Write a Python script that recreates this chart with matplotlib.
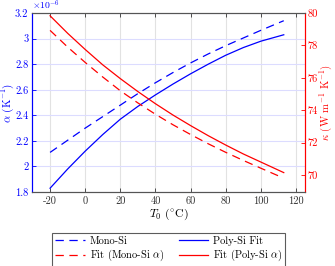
import matplotlib
matplotlib.use("Agg")
from matplotlib import pyplot as plt
from matplotlib.ticker import FuncFormatter

# temperature points (deg C) and read-off values
t_blue = [-20, -10, 0, 10, 20, 30, 40, 50, 60, 70, 80, 90, 100, 113]
alpha_mono = [2.11, 2.205, 2.30, 2.39, 2.48, 2.57, 2.655, 2.735, 2.81, 2.88,
              2.945, 3.005, 3.065, 3.14]  # x1e-6 1/K
alpha_poly = [1.83, 1.98, 2.12, 2.25, 2.37, 2.47, 2.56, 2.645, 2.725, 2.80,
              2.87, 2.93, 2.98, 3.03]

t_red_poly = [-20, -10, 0, 10, 20, 30, 40, 50, 60, 70, 80, 90, 100, 113]
kappa_poly = [79.83, 78.75, 77.75, 76.8, 75.95, 75.15, 74.4, 73.7, 73.05,
              72.43, 71.85, 71.3, 70.8, 70.15]
t_red_mono = [-20, -10, 0, 10, 20, 30, 40, 50, 60, 70, 80, 90, 100, 111]
kappa_mono = [78.93, 77.9, 76.95, 76.05, 75.2, 74.45, 73.75, 73.1, 72.5,
              71.93, 71.4, 70.9, 70.42, 69.9]

x_ticks = [-20, 0, 20, 40, 60, 80, 100, 120]
alpha_ticks = [1.8, 2.0, 2.2, 2.4, 2.6, 2.8, 3.0, 3.2]
kappa_ticks = [70, 72, 74, 76, 78, 80]

plt.rcParams["font.family"] = "serif"
plt.rcParams["font.serif"] = ["cmr10", "DejaVu Serif"]
plt.rcParams["mathtext.fontset"] = "cm"
plt.rcParams["axes.formatter.use_mathtext"] = True
plt.rcParams["lines.scale_dashes"] = False
plt.rcParams["font.size"] = 7.5

blue = (0.0, 0.0, 1.0)
red = (1.0, 0.0, 0.0)
dash = (6, 4)

fig = plt.figure(figsize=(3.35, 2.66), dpi=100)
ax = fig.add_axes([0.097, 0.278, 0.813, 0.673])
ax2 = ax.twinx()

l1, = ax.plot(t_blue, alpha_mono, color=blue, lw=0.9, dashes=dash, label="Mono-Si")
l2, = ax.plot(t_blue, alpha_poly, color=blue, lw=0.9, label="Poly-Si Fit")
l3, = ax2.plot(t_red_mono, kappa_mono, color=red, lw=0.9, dashes=dash, label=r"Fit (Mono-Si $\alpha$)")
l4, = ax2.plot(t_red_poly, kappa_poly, color=red, lw=0.9, label=r"Fit (Poly-Si $\alpha$)")

ax.set_xlim(-30, 125)
ax.set_ylim(1.8, 3.2)
ax2.set_ylim(68.95, 80)
ax.set_xticks(x_ticks)
ax.set_yticks(alpha_ticks)
ax2.set_yticks(kappa_ticks)
fmt = FuncFormatter(lambda v, p: f"{v:g}")
ax.yaxis.set_major_formatter(fmt)
ax.xaxis.set_major_formatter(fmt)
ax2.yaxis.set_major_formatter(fmt)

ax.grid(axis="x", color="#e2e2e2", lw=0.8)
ax.grid(axis="y", color="#dcdcff", lw=0.8)
ax.set_axisbelow(True)

for s in ["top", "bottom"]:
    ax.spines[s].set_color("#555555")
    ax2.spines[s].set_color("#555555")
ax.spines["left"].set_color(blue)
ax2.spines["left"].set_color(blue)
ax.spines["right"].set_color(red)
ax2.spines["right"].set_color(red)
for sp in list(ax.spines.values()) + list(ax2.spines.values()):
    sp.set_linewidth(0.8)

ax.tick_params(axis="x", direction="in", top=True, colors="#333333", length=3, width=0.6, pad=3)
ax.tick_params(axis="y", direction="in", colors=blue, length=3, width=0.6, pad=3)
ax2.tick_params(axis="y", direction="in", colors=red, length=3, width=0.6, pad=2)

ax.text(0.0, 1.005, r"$\times10^{-6}$", transform=ax.transAxes, color=blue,
        ha="left", va="bottom", fontsize=7)

ax.set_xlabel(r"$T_0$ ($^{\circ}$C)", fontsize=8.5, labelpad=1)
ax.set_ylabel(r"$\alpha$ (K$^{-1}$)", color=blue, fontsize=8)
ax2.set_ylabel(r"$\kappa$ (W m$^{-1}$ K$^{-1}$)", color=red, fontsize=7.8)
ax.yaxis.set_label_coords(-0.06, 0.5)
ax2.yaxis.set_label_coords(1.047, 0.5)

leg = fig.legend([l1, l3, l2, l4], [l.get_label() for l in [l1, l3, l2, l4]],
                 ncol=2, loc="center", bbox_to_anchor=(0.504, 0.061),
                 frameon=True, fancybox=False, edgecolor="#333333",
                 fontsize=7.5, handlelength=2.8, columnspacing=1.4,
                 borderpad=0.3, labelspacing=0.2, handletextpad=0.5)
leg.get_frame().set_linewidth(0.8)

fig.savefig("out.png", dpi=100)
